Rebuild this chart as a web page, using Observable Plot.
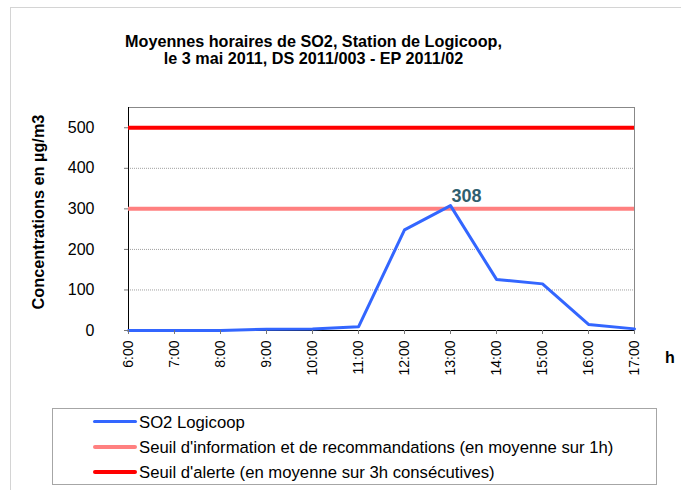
<!DOCTYPE html>
<html>
<head>
<meta charset="utf-8">
<script src="https://cdn.jsdelivr.net/npm/d3@7"></script>
<script src="https://cdn.jsdelivr.net/npm/@observablehq/plot@0.6"></script>
<style>
  html, body { margin: 0; padding: 0; background: #fff; overflow: hidden; }
  body { width: 681px; height: 490px; position: relative; font-family: "Liberation Sans", Arial, sans-serif; }
  #outer { position: absolute; left: 10px; top: 7px; width: 720px; height: 520px; border: 1px solid #d4d4d4; }
  #title { position: absolute; left: 0; top: 32.5px; width: 627px; text-align: center; font-weight: bold; font-size: 16.2px; line-height: 17px; color: #000; }
  #ylabel { position: absolute; left: -112px; top: 201.5px; width: 300px; height: 20px; line-height: 20px; text-align: center; font-weight: bold; font-size: 16.3px; transform: rotate(-90deg); transform-origin: 150px 10px; white-space: nowrap; }
  #hlabel { position: absolute; left: 665px; top: 349px; font-weight: bold; font-size: 16px; line-height: 17px; }
  #chart { position: absolute; left: 0; top: 0; }
  #legend { position: absolute; left: 52px; top: 408px; width: 603px; height: 75px; border: 1px solid #a6a6a6; }
  .row { position: absolute; left: 0; height: 25px; width: 100%; }
  .sw { position: absolute; left: 40px; width: 44px; border-radius: 2px; }
  .lt { position: absolute; left: 86px; top: 2.8px; font-size: 16.7px; line-height: 19px; white-space: nowrap; }
</style>
</head>
<body>
<div id="outer"></div>
<div id="title"></div>
<div id="ylabel"></div>
<div id="hlabel"></div>
<div id="chart"></div>
<div id="legend"></div>
<script>
// ---- data ----
const titleLines = ["Moyennes horaires de SO2, Station de Logicoop,", "le 3 mai 2011, DS 2011/003 - EP 2011/02"];
const yLabel = "Concentrations en µg/m3";
const xLabel = "h";
const hours = ["6:00","7:00","8:00","9:00","10:00","11:00","12:00","13:00","14:00","15:00","16:00","17:00"];
const so2 = [0, 0, 0, 3, 4, 9, 248, 308, 126, 115, 15, 4];
const seuilInfo = 300;
const seuilAlerte = 500;
const yTicks = [0, 100, 200, 300, 400, 500];
const seriesNames = ["SO2 Logicoop", "Seuil d'information et de recommandations (en moyenne sur 1h)", "Seuil d'alerte (en moyenne sur 3h consécutives)"];
const seriesColors = ["#3366ff", "#ff8080", "#ff0000"];

// ---- build ----
const data = hours.map((h, i) => ({hour: h, value: so2[i]}));
const maxVal = d3.max(so2);
const peak = data.filter(d => d.value === maxVal);

const plot = Plot.plot({
  width: 681,
  height: 400,
  marginTop: 107,
  marginBottom: 70,
  marginLeft: 128,
  marginRight: 47,
  style: {fontFamily: "'Liberation Sans', Arial, sans-serif", fontSize: "14px", color: "#000", background: "transparent"},
  x: {type: "point", domain: hours, padding: 0, label: null},
  y: {domain: [0, 550], label: null},
  marks: [
    Plot.ruleY(yTicks.filter(d => d > 0), {stroke: "#a0a0a0", strokeDasharray: "1,1"}),
    Plot.frame({stroke: "#888"}),
    Plot.ruleY([0], {stroke: "#000"}),
    Plot.ruleX([hours[0]], {stroke: "#000"}),
    Plot.ruleY([seuilInfo], {stroke: seriesColors[1], strokeWidth: 4}),
    Plot.ruleY([seuilAlerte], {stroke: seriesColors[2], strokeWidth: 4}),
    Plot.line(data, {x: "hour", y: "value", stroke: seriesColors[0], strokeWidth: 3}),
    Plot.text(peak, {x: "hour", y: "value", text: d => String(d.value), dx: 16, dy: -4, lineAnchor: "bottom", fontWeight: "bold", fill: "#2f5f6f", fontSize: 18}),
    Plot.axisX({tickRotate: -90, tickSize: 4, tickPadding: 6, fontSize: 14, stroke: "#777", label: null}),
    Plot.axisY({ticks: yTicks, tickSize: 4, tickPadding: 30, fontSize: 16, stroke: "#777", label: null})
  ]
});
document.getElementById("chart").appendChild(plot);

document.getElementById("title").innerHTML = titleLines.map(t => `<div>${t}</div>`).join("");
document.getElementById("ylabel").textContent = yLabel;
document.getElementById("hlabel").textContent = xLabel;

const legend = document.getElementById("legend");
seriesNames.forEach((name, i) => {
  const row = document.createElement("div");
  row.className = "row";
  row.style.top = (1 + i * 25) + "px";
  const sw = document.createElement("div");
  sw.className = "sw";
  const h = i === 0 ? 3 : 4;
  sw.style.height = h + "px";
  sw.style.top = (11.7 - h / 2) + "px";
  sw.style.background = seriesColors[i];
  const lt = document.createElement("div");
  lt.className = "lt";
  lt.textContent = name;
  row.appendChild(sw);
  row.appendChild(lt);
  legend.appendChild(row);
});
</script>
</body>
</html>
